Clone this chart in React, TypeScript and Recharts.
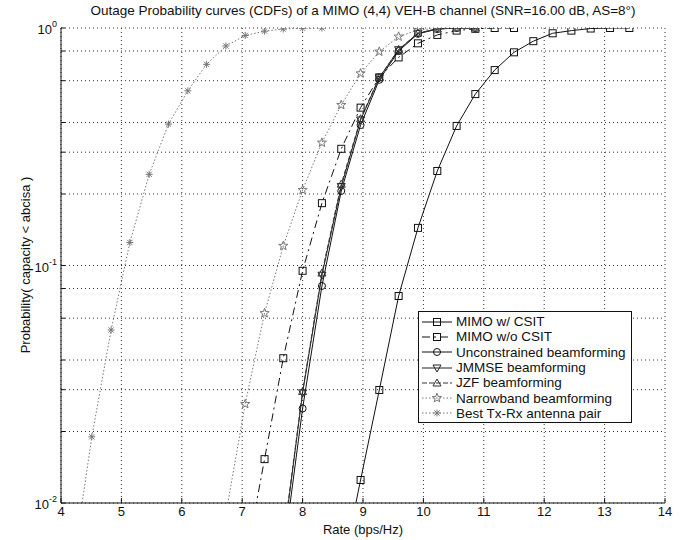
import { LineChart, Line, XAxis, YAxis, CartesianGrid } from 'recharts';

const _ = null;

// rate grid (bps/Hz) shared by every curve
const RATES = [
  4.19, 4.51, 4.83, 5.14, 5.46, 5.78, 6.1, 6.41, 6.73, 7.05,
  7.37, 7.68, 8.0, 8.32, 8.64, 8.96, 9.27, 9.59, 9.91, 10.23,
  10.55, 10.86, 11.18, 11.5, 11.82, 12.14, 12.45, 12.77, 13.09, 13.41,
];

const MIMO_CSIT = [
  _, _, _, _, _, _, _, _, _, _,
  _, _, _, _, 0.005, 0.0125, 0.0299, 0.0744, 0.144, 0.25,
  0.387, 0.527, 0.665, 0.79, 0.88, 0.95, 0.975, 0.995, 1.0, 1.0,
];
const MIMO_NO_CSIT = [
  _, _, _, _, _, _, _, _, _, 0.0056,
  0.0153, 0.0407, 0.095, 0.183, 0.31, 0.462, 0.62, 0.752, 0.862, 0.935,
  0.975, 0.992, 1.0, 1.0, _, _, _, _, _, _,
];
const UNCONSTRAINED = [
  _, _, _, _, _, _, _, _, _, _,
  _, 0.006, 0.025, 0.082, 0.206, 0.39, 0.605, 0.8, 0.945, 0.99,
  1.0, 1.0, _, _, _, _, _, _, _, _,
];
const JMMSE = [
  _, _, _, _, _, _, _, _, _, _,
  _, 0.0068, 0.0291, 0.091, 0.215, 0.41, 0.617, 0.81, 0.95, 0.99,
  1.0, 1.0, _, _, _, _, _, _, _, _,
];
const JZF = [
  _, _, _, _, _, _, _, _, _, _,
  _, 0.007, 0.0295, 0.093, 0.22, 0.415, 0.62, 0.812, 0.952, 0.992,
  1.0, 1.0, _, _, _, _, _, _, _, _,
];
const NARROWBAND = [
  _, _, _, _, _, _, _, _, 0.009, 0.0261,
  0.063, 0.121, 0.208, 0.329, 0.474, 0.644, 0.795, 0.92, 0.98, 0.997,
  1.0, 1.0, _, _, _, _, _, _, _, _,
];
const BEST_PAIR = [
  0.0053, 0.019, 0.0535, 0.125, 0.242, 0.394, 0.544, 0.703, 0.84, 0.93,
  0.97, 0.99, 0.998, 1.0, _, _, _, _, _, _,
  _, _, _, _, _, _, _, _, _, _,
];

const X_TICKS = [4, 5, 6, 7, 8, 9, 10, 11, 12, 13, 14];
const Y_TICKS = [
  0.01, 0.02, 0.03, 0.04, 0.05, 0.06, 0.07, 0.08, 0.09,
  0.1, 0.2, 0.3, 0.4, 0.5, 0.6, 0.7, 0.8, 0.9, 1,
];

const SERIES = [
  { key: 'csit', name: 'MIMO w/ CSIT', values: MIMO_CSIT, marker: 'square', color: '#111', dash: undefined },
  { key: 'nocsit', name: 'MIMO w/o CSIT', values: MIMO_NO_CSIT, marker: 'square', color: '#111', dash: '8 4 2 4' },
  { key: 'uncon', name: 'Unconstrained beamforming', values: UNCONSTRAINED, marker: 'circle', color: '#111', dash: undefined },
  { key: 'jmmse', name: 'JMMSE beamforming', values: JMMSE, marker: 'down', color: '#222', dash: undefined },
  { key: 'jzf', name: 'JZF beamforming', values: JZF, marker: 'up', color: '#333', dash: '5 2' },
  { key: 'narrow', name: 'Narrowband beamforming', values: NARROWBAND, marker: 'star', color: '#777', dash: '1.5 2' },
  { key: 'best', name: 'Best Tx-Rx antenna pair', values: BEST_PAIR, marker: 'asterisk', color: '#777', dash: '1.5 2' },
];

const data = RATES.map((rate, i) => {
  const row: Record<string, number | null> = { rate };
  SERIES.forEach((s) => {
    row[s.key] = s.values[i];
  });
  return row;
});

const FONT = '"Liberation Sans", Arial, Helvetica, sans-serif';

function Marker({ kind, cx, cy, color }: { kind: string; cx: number; cy: number; color: string }) {
  const common = { fill: 'none', stroke: color, strokeWidth: 1 };
  if (kind === 'square') {
    return <rect x={cx - 3.5} y={cy - 3.5} width={7} height={7} {...common} />;
  }
  if (kind === 'circle') {
    return <circle cx={cx} cy={cy} r={3.5} {...common} />;
  }
  if (kind === 'down') {
    return <polygon points={`${cx - 4},${cy - 3} ${cx + 4},${cy - 3} ${cx},${cy + 4}`} {...common} />;
  }
  if (kind === 'up') {
    return <polygon points={`${cx - 4},${cy + 3} ${cx + 4},${cy + 3} ${cx},${cy - 4}`} {...common} />;
  }
  if (kind === 'star') {
    const pts: string[] = [];
    for (let k = 0; k < 10; k++) {
      const r = k % 2 === 0 ? 4.8 : 2;
      const a = -Math.PI / 2 + (k * Math.PI) / 5;
      pts.push(`${cx + r * Math.cos(a)},${cy + r * Math.sin(a)}`);
    }
    return <polygon points={pts.join(' ')} {...common} />;
  }
  // asterisk
  return (
    <g stroke={color} strokeWidth={1}>
      <line x1={cx - 3.5} y1={cy} x2={cx + 3.5} y2={cy} />
      <line x1={cx} y1={cy - 3.5} x2={cx} y2={cy + 3.5} />
      <line x1={cx - 2.6} y1={cy - 2.6} x2={cx + 2.6} y2={cy + 2.6} />
      <line x1={cx - 2.6} y1={cy + 2.6} x2={cx + 2.6} y2={cy - 2.6} />
    </g>
  );
}

const makeDot = (kind: string, color: string) => (props: any) => {
  const { cx, cy, index, value } = props;
  if (cx == null || cy == null || value == null || Number.isNaN(cy)) {
    return <g key={`d-${index}`} />;
  }
  return (
    <g key={`d-${index}`}>
      <Marker kind={kind} cx={cx} cy={cy} color={color} />
    </g>
  );
};

const YTick = (props: any) => {
  const { x, y, payload } = props;
  const v = payload.value;
  const exp = Math.round(Math.log10(v));
  if (Math.abs(Math.pow(10, exp) - v) > 1e-9) return <g />;
  return (
    <text x={x} y={y + 6} textAnchor="end" fontFamily={FONT} fontSize={13} fill="#111">
      <tspan>10</tspan>
      <tspan dy={-7} fontSize={9}>{exp}</tspan>
    </text>
  );
};

function LegendBox() {
  return (
    <div
      style={{
        position: 'absolute',
        left: 418,
        top: 311,
        width: 212,
        height: 108,
        border: '1px solid #111',
        background: '#fff',
        paddingTop: 2,
        boxSizing: 'content-box',
        fontFamily: FONT,
        fontSize: 13.5,
        color: '#111',
      }}
    >
      {SERIES.map((s) => (
        <div key={s.key} style={{ display: 'flex', alignItems: 'center', height: 15.3 }}>
          <svg width={36} height={14} style={{ marginRight: 1 }}>
            <line x1={3} y1={7} x2={33} y2={7} stroke={s.color} strokeDasharray={s.dash} />
            <Marker kind={s.marker} cx={18} cy={7} color={s.color} />
          </svg>
          <span style={{ whiteSpace: 'nowrap' }}>{s.name}</span>
        </div>
      ))}
    </div>
  );
}

export default function App() {
  return (
    <div style={{ position: 'absolute', left: 0, top: 0, width: 681, height: 540, background: '#fff' }}>
      <div
        style={{
          position: 'absolute',
          left: 0,
          width: 726,
          top: 3,
          textAlign: 'center',
          fontFamily: FONT,
          fontSize: 13.5,
          color: '#111',
        }}
      >
        Outage Probability curves (CDFs) of a MIMO (4,4) VEH-B channel (SNR=16.00 dB, AS=8°)
      </div>
      <div
        style={{
          position: 'absolute',
          left: 25,
          top: 265,
          transform: 'translate(-50%, -50%) rotate(-90deg)',
          whiteSpace: 'nowrap',
          fontFamily: FONT,
          fontSize: 13,
          color: '#111',
        }}
      >
        Probability( capacity &lt; abcisa )
      </div>
      <div
        style={{
          position: 'absolute',
          left: 0,
          width: 726,
          top: 522,
          textAlign: 'center',
          fontFamily: FONT,
          fontSize: 13,
          color: '#111',
        }}
      >
        Rate (bps/Hz)
      </div>
      <LineChart
        width={681}
        height={540}
        data={data}
        margin={{ top: 28, right: 16, bottom: 0, left: 0 }}
        style={{ position: 'absolute', left: 0, top: 0 }}
      >
        <CartesianGrid stroke="#333" strokeDasharray="1 3" />
        <XAxis
          dataKey="rate"
          type="number"
          domain={[4, 14]}
          ticks={X_TICKS}
          allowDataOverflow
          height={37}
          tickSize={-5}
          tickMargin={9}
          axisLine={{ stroke: '#111' }}
          tickLine={{ stroke: '#111' }}
          tick={{ fontFamily: FONT, fontSize: 13, fill: '#111' }}
        />
        <XAxis
          xAxisId="top"
          orientation="top"
          type="number"
          domain={[4, 14]}
          ticks={X_TICKS}
          allowDataOverflow
          height={0}
          tickSize={-5}
          tick={false}
          axisLine={{ stroke: '#111' }}
          tickLine={{ stroke: '#111' }}
        />
        <YAxis
          scale="log"
          type="number"
          domain={[0.01, 1]}
          ticks={Y_TICKS}
          allowDataOverflow
          width={61}
          tickSize={-4}
          tickMargin={8}
          axisLine={{ stroke: '#111' }}
          tickLine={{ stroke: '#111' }}
          tick={<YTick />}
        />
        <YAxis
          yAxisId="right"
          orientation="right"
          scale="log"
          type="number"
          domain={[0.01, 1]}
          ticks={Y_TICKS}
          allowDataOverflow
          width={0}
          tickSize={-4}
          tick={false}
          axisLine={{ stroke: '#111' }}
          tickLine={{ stroke: '#111' }}
        />
        {SERIES.map((s) => (
          <Line
            key={s.key}
            dataKey={s.key}
            type="linear"
            stroke={s.color}
            strokeWidth={1}
            strokeDasharray={s.dash}
            dot={makeDot(s.marker, s.color)}
            activeDot={false}
            isAnimationActive={false}
          />
        ))}
      </LineChart>
      <LegendBox />
    </div>
  );
}
